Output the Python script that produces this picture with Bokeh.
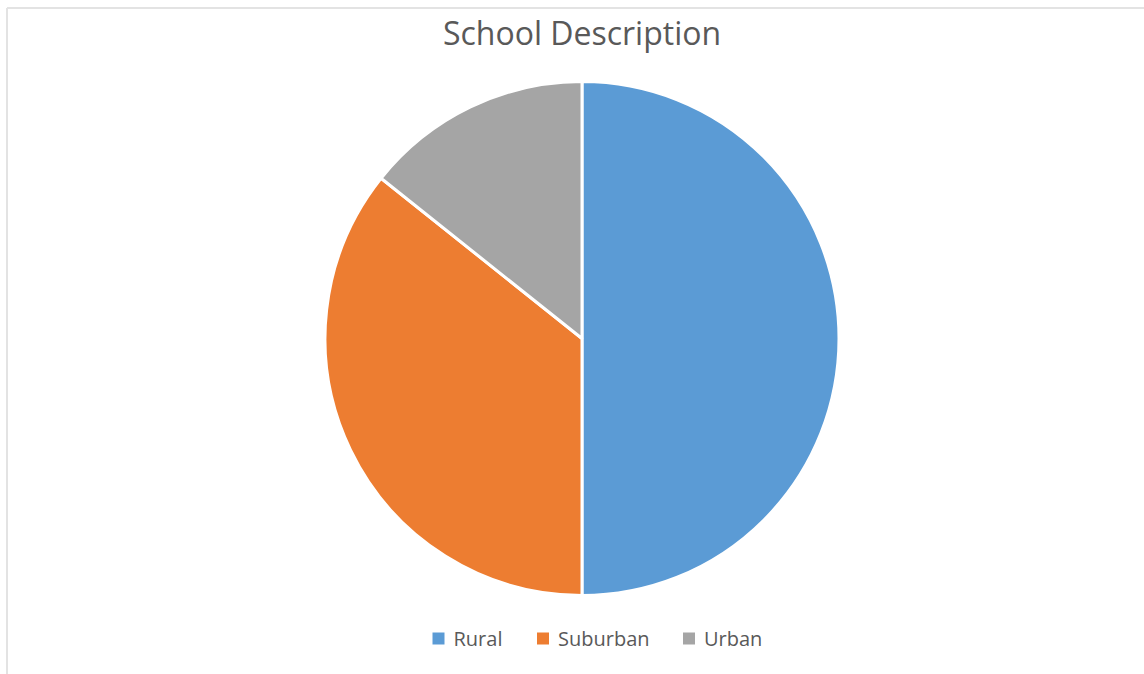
import numpy as np
from bokeh.plotting import figure
from bokeh.models import Range1d, ColumnDataSource
from bokeh.core.properties import value
from bokeh.embed import file_html
from bokeh.resources import INLINE

# ---- data ----
title_text = "School Description"
categories = ["Rural", "Suburban", "Urban"]
counts = [7, 5, 2]
colors = ["#5B9BD5", "#ED7D31", "#A5A5A5"]

W, H = 1144, 674
p = figure(width=W, height=H, output_backend="svg", toolbar_location=None,
           x_range=Range1d(0, W), y_range=Range1d(0, H), min_border=0)
p.axis.visible = False
p.grid.visible = False
p.outline_line_color = None
p.background_fill_color = "white"
p.border_fill_color = "white"

# frame lines (top and left)
p.segment(x0=[6.5, 6.5], y0=[H - 7.5, H - 7.5], x1=[W, 6.5], y1=[H - 7.5, 0],
          line_color="#E3E3E3", line_width=2)

# pie
cx, cy, r = 581.5, H - 338, 257
vals = np.array(counts, dtype=float)
frac = vals / vals.sum()
cum = np.concatenate([[0], np.cumsum(frac)])
start = np.pi / 2 - 2 * np.pi * cum[:-1]
end = np.pi / 2 - 2 * np.pi * cum[1:]
src = ColumnDataSource(dict(start=start, end=end, color=colors, cat=categories))
p.wedge(x=cx, y=cy, radius=r, start_angle="start", end_angle="end",
        direction="clock", fill_color="color", line_color="white",
        line_width=3, source=src)

# title
p.text(x=[cx], y=[H - 32], text=[title_text], text_font=value("Open Sans"),
       text_font_size="32px", text_color="#595959", text_align="center",
       text_baseline="middle")

# legend
sq_x = [438, 542.5, 688.5]
ly = H - 638
p.rect(x=sq_x, y=[ly] * 3, width=12, height=12, fill_color=colors, line_color=None)
p.text(x=[x + 15 for x in sq_x], y=[ly] * 3, text=categories,
       text_font=value("Open Sans"), text_font_size="20px", text_color="#595959",
       text_align="left", text_baseline="middle")

open("out.html", "w").write(file_html(p, INLINE))
